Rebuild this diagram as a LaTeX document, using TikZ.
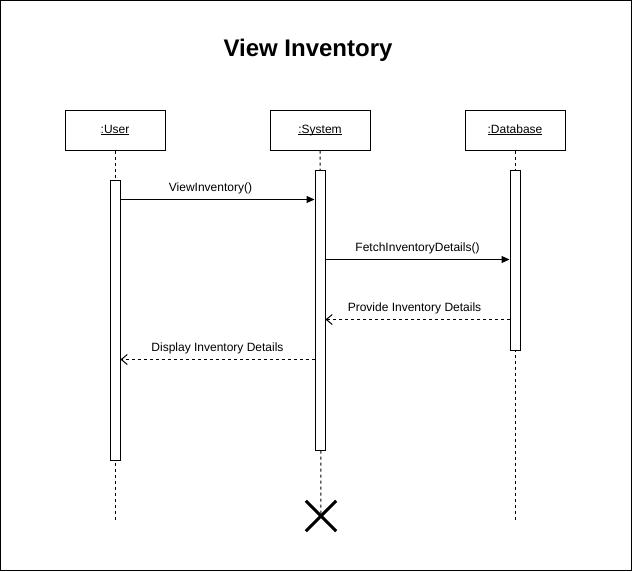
\documentclass[tikz,border=0pt]{standalone}
\usepackage{fontspec}
\setmainfont{Liberation Sans}
\usetikzlibrary{arrows.meta,positioning,calc}

\newcommand{\objname}[1]{\underline{\smash{#1}}}

\begin{document}
\begin{tikzpicture}[
    x=1pt, y=-1pt,
    obj/.style={
      rectangle,
      draw=black,
      fill=white,
      line width=1pt,
      minimum width=100pt,
      minimum height=40pt,
      text height=8.5pt,
      text depth=2.5pt,
      font=\fontsize{12}{14}\selectfont
    },
    actbar/.style={
      rectangle,
      draw=black,
      fill=white,
      line width=1pt,
      minimum width=10pt,
      inner sep=0pt
    },
    life/.style={
      line width=1pt,
      dash pattern=on 3pt off 3pt
    },
    call/.style={
      -{Triangle[length=8pt, width=7pt]},
      line width=1pt
    },
    reply/.style={
      -{Straight Barb[length=6pt, width=10pt]},
      line width=1pt,
      dash pattern=on 3pt off 3pt
    },
    lbl/.style={
      font=\fontsize{12}{14}\selectfont,
      above=1.5pt
    }
  ]

    % frame
    \draw[line width=1pt, fill=white] (0.5,0.5) rectangle (631.5,570.5);
    \useasboundingbox (0,0) rectangle (632,571);

    \node[font=\bfseries\fontsize{24}{28}\selectfont] (title) at (308,50) {View Inventory};

    % objects
    \node[obj] (user) at (115,130) {\objname{:User}};
    \node[obj] (system) at (320,130) {\objname{:System}};
    \node[obj] (db) at (515,130) {\objname{:Database}};

    % lifelines
    \coordinate (uend) at (115,520);
    \coordinate (dend) at (515,520);
    \node[inner sep=0pt, minimum size=30pt] (kill) at (321,516) {};
    \draw[life] (user.south) -- (uend);
    \draw[life] (system.south) -- (kill.center);
    \draw[life] (db.south) -- (dend);
    \draw[line width=3pt] (kill.north west) -- (kill.south east)
                          (kill.north east) -- (kill.south west);

    % activations
    \node[actbar, minimum height=280pt] (uact) at (115,320) {};
    \node[actbar, minimum height=280pt] (sact) at (320,310) {};
    \node[actbar, minimum height=180pt] (dact) at (515,260) {};

    % messages
    \draw[call] ([yshift=-20pt]uact.north east) --
      node[lbl, xshift=-7pt] {ViewInventory()} ([yshift=-30pt]sact.north west);
    \draw[call] ([yshift=-90pt]sact.north east) --
      node[lbl] {FetchInventoryDetails()} ([yshift=-90pt]dact.north west);
    \draw[reply] ([yshift=-150pt]dact.north west) --
      node[lbl, xshift=-3pt] {Provide Inventory Details} ([yshift=-150pt]sact.north east);
    \draw[reply] ([yshift=-190pt]sact.north west) --
      node[lbl] {Display Inventory Details} ([yshift=-180pt]uact.north east);

  \end{tikzpicture}
\end{document}
